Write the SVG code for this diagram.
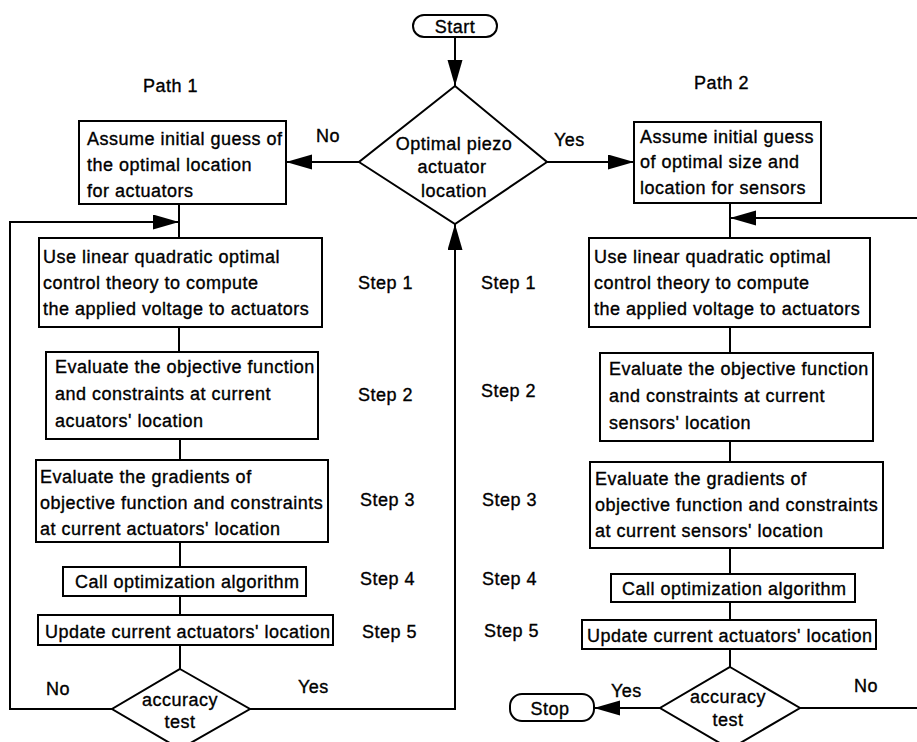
<svg xmlns="http://www.w3.org/2000/svg" width="917" height="742" viewBox="0 0 917 742">
<defs>
<style>
text{font-family:"Liberation Sans",Arial,sans-serif;font-size:18px;letter-spacing:0.5px;fill:#000;stroke:#000;stroke-width:0.35px}
.m{text-anchor:middle}
.box{fill:#fff;stroke:#000;stroke-width:2}
.ln{fill:none;stroke:#000;stroke-width:2}
</style>
<marker id="ah" markerUnits="userSpaceOnUse" markerWidth="27" markerHeight="16" refX="26" refY="7.5" orient="auto">
<path d="M0,0 L26,7.5 L0,15 Z" fill="#000"/>
</marker>
</defs>
<rect width="917" height="742" fill="#fff"/>
<g id="connectors">
<line class="ln" x1="455" y1="37" x2="455" y2="86" marker-end="url(#ah)"/>
<line class="ln" x1="359" y1="162" x2="286" y2="162" marker-end="url(#ah)"/>
<line class="ln" x1="547" y1="162" x2="634" y2="162" marker-end="url(#ah)"/>
<line class="ln" x1="179" y1="204" x2="179" y2="238"/>
<polyline class="ln" points="112,709 10,709 10,222 179,222" marker-end="url(#ah)"/>
<line class="ln" x1="179" y1="327" x2="179" y2="352"/>
<line class="ln" x1="180" y1="439" x2="180" y2="460"/>
<line class="ln" x1="180" y1="542" x2="180" y2="567"/>
<line class="ln" x1="180" y1="596" x2="180" y2="615"/>
<line class="ln" x1="180" y1="645" x2="180" y2="669"/>
<polyline class="ln" points="250,709 455,709 455,224" marker-end="url(#ah)"/>
<line class="ln" x1="730" y1="203" x2="730" y2="238"/>
<line class="ln" x1="917" y1="218" x2="730" y2="218" marker-end="url(#ah)"/>
<line class="ln" x1="730" y1="327" x2="730" y2="353"/>
<line class="ln" x1="730" y1="441" x2="730" y2="462"/>
<line class="ln" x1="730" y1="548" x2="730" y2="574"/>
<line class="ln" x1="730" y1="602" x2="730" y2="620"/>
<line class="ln" x1="730" y1="649" x2="730" y2="667"/>
<line class="ln" x1="660" y1="708" x2="594" y2="708" marker-end="url(#ah)"/>
<line class="ln" x1="800" y1="708" x2="917" y2="708"/>
</g>
<g id="start">
<rect class="box" x="413" y="15" width="84" height="22" rx="11"/>
<text class="m" x="455" y="33">Start</text>
</g>
<g id="decision">
<polygon class="box" points="455,86 547,162 455,224 359,162"/>
<text class="m" x="454" y="150">Optimal piezo</text>
<text class="m" x="452" y="173">actuator</text>
<text class="m" x="454" y="197">location</text>
</g>
<g id="labels">
<text x="143" y="92">Path 1</text>
<text x="694" y="89">Path 2</text>
<text x="316" y="142">No</text>
<text x="554" y="146">Yes</text>
<text x="358" y="289">Step 1</text>
<text x="358" y="401">Step 2</text>
<text x="360" y="506">Step 3</text>
<text x="360" y="585">Step 4</text>
<text x="362" y="638">Step 5</text>
<text x="481" y="289">Step 1</text>
<text x="481" y="397">Step 2</text>
<text x="482" y="506">Step 3</text>
<text x="482" y="585">Step 4</text>
<text x="484" y="637">Step 5</text>
<text x="46" y="695">No</text>
<text x="298" y="693">Yes</text>
<text x="611" y="697">Yes</text>
<text x="854" y="692">No</text>
</g>
<g id="L1">
<rect class="box" x="79" y="121" width="207" height="83"/>
<text x="87" y="145">Assume initial guess of</text>
<text x="87" y="171">the optimal location</text>
<text x="87" y="197">for actuators</text>
</g>
<g id="L2">
<rect class="box" x="39" y="238" width="283" height="89"/>
<text x="43" y="263">Use linear quadratic optimal</text>
<text x="43" y="289">control theory to compute</text>
<text x="43" y="315">the applied voltage to actuators</text>
</g>
<g id="L3">
<rect class="box" x="46" y="352" width="272" height="87"/>
<text x="55" y="373">Evaluate the objective function</text>
<text x="55" y="400">and constraints at current</text>
<text x="55" y="427">acuators' location</text>
</g>
<g id="L4">
<rect class="box" x="36" y="460" width="292" height="82"/>
<text x="40" y="483">Evaluate the gradients of</text>
<text x="40" y="509">objective function and constraints</text>
<text x="40" y="535">at current actuators' location</text>
</g>
<g id="L5">
<rect class="box" x="63" y="567" width="243" height="29"/>
<text x="75" y="588">Call optimization algorithm</text>
</g>
<g id="L6">
<rect class="box" x="38" y="615" width="295" height="30"/>
<text x="45" y="638">Update current actuators' location</text>
</g>
<g id="Ltest">
<polygon class="box" points="180,669 250,709 180,749 112,709"/>
<text class="m" x="180" y="706">accuracy</text>
<text class="m" x="180" y="728">test</text>
</g>
<g id="R1">
<rect class="box" x="634" y="122" width="187" height="81"/>
<text x="640" y="143">Assume initial guess</text>
<text x="640" y="168">of optimal size and</text>
<text x="640" y="194">location for sensors</text>
</g>
<g id="R2">
<rect class="box" x="589" y="238" width="281" height="89"/>
<text x="594" y="263">Use linear quadratic optimal</text>
<text x="594" y="289">control theory to compute</text>
<text x="594" y="315">the applied voltage to actuators</text>
</g>
<g id="R3">
<rect class="box" x="600" y="353" width="273" height="88"/>
<text x="609" y="375">Evaluate the objective function</text>
<text x="609" y="402">and constraints at current</text>
<text x="609" y="429">sensors' location</text>
</g>
<g id="R4">
<rect class="box" x="590" y="462" width="293" height="86"/>
<text x="595" y="485">Evaluate the gradients of</text>
<text x="595" y="511">objective function and constraints</text>
<text x="595" y="537">at current sensors' location</text>
</g>
<g id="R5">
<rect class="box" x="611" y="574" width="244" height="28"/>
<text x="622" y="595">Call optimization algorithm</text>
</g>
<g id="R6">
<rect class="box" x="582" y="620" width="294" height="29"/>
<text x="587" y="642">Update current actuators' location</text>
</g>
<g id="Rtest">
<polygon class="box" points="730,667 800,708 730,749 660,708"/>
<text class="m" x="728" y="703">accuracy</text>
<text class="m" x="728" y="726">test</text>
</g>
<g id="stop">
<rect class="box" x="510" y="694" width="84" height="27" rx="12"/>
<text class="m" x="550" y="715">Stop</text>
</g>
</svg>
